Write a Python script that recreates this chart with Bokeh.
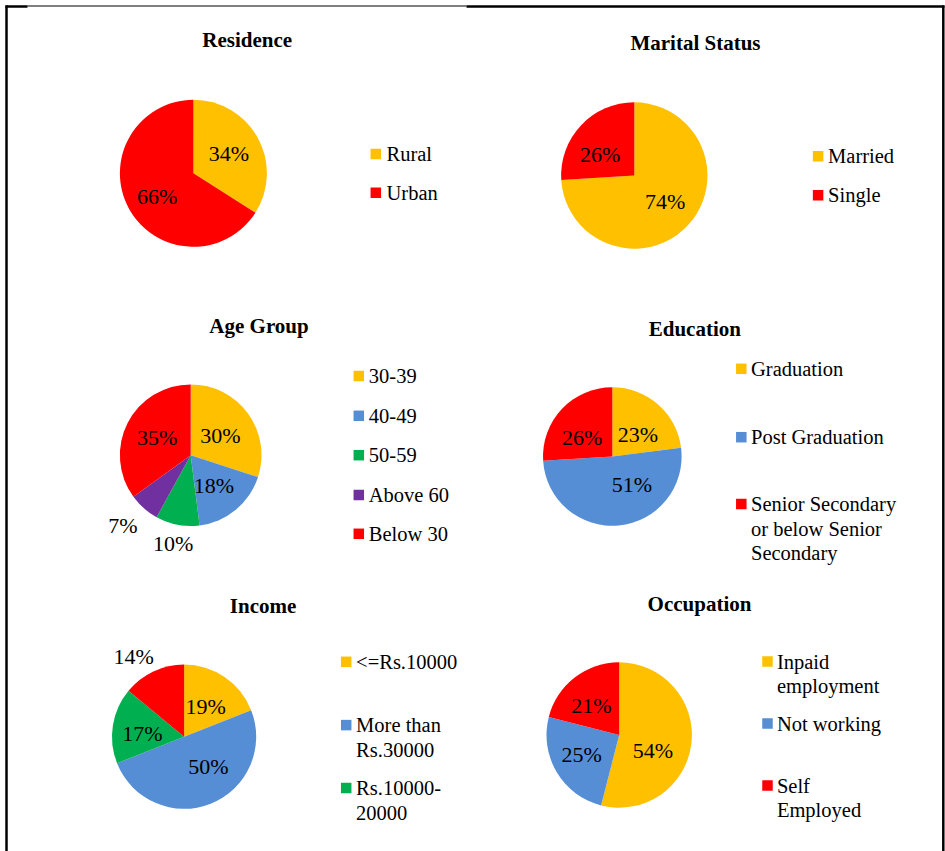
import math
from bokeh.plotting import figure
from bokeh.models import Range1d, ColumnDataSource
from bokeh.core.properties import value
from bokeh.embed import file_html
from bokeh.resources import INLINE

# ---------------- data ----------------
residence_labels = ["Rural", "Urban"]
residence_values = [34, 66]

marital_labels = ["Married", "Single"]
marital_values = [74, 26]

age_labels = ["30-39", "40-49", "50-59", "Above 60", "Below 30"]
age_values = [30, 18, 10, 7, 35]

education_labels = ["Graduation", "Post Graduation",
                    "Senior Secondary\nor below Senior\nSecondary"]
education_values = [23, 51, 26]

income_labels = ["<=Rs.10000", "More than\nRs.30000", "Rs.10000-\n20000"]
income_values = [19, 50, 17, 14]

occupation_labels = ["Inpaid\nemployment", "Not working", "Self\nEmployed"]
occupation_values = [54, 25, 21]

# ---------------- styles ----------------
YELLOW = "#FFC000"
RED = "#FF0000"
BLUE = "#558ED5"
GREEN = "#00B050"
PURPLE = "#7030A0"
FONT = value("Liberation Serif")

W, H = 945, 851

charts = [
    dict(title="Residence", tx=246.7, ty=39, cx=192.9, cy=172.8, r=73.5,
         labels=residence_labels, values=residence_values, colors=[YELLOW, RED],
         lab=[(0, 0.55), (3.6, 0.585)],
         sqx=375.3, txx=386, ly=[153.5, 192.3]),
    dict(title="Marital Status", tx=695, ty=42, cx=633.8, cy=175, r=73.2,
         labels=marital_labels, values=marital_values, colors=[YELLOW, RED],
         lab=[(3, 0.55), (11, 0.55)],
         sqx=817.6, txx=827.6, ly=[155.8, 194.7]),
    dict(title="Age Group", tx=258.5, ty=325, cx=190.2, cy=454.7, r=70.8,
         labels=age_labels, values=age_values,
         colors=[YELLOW, BLUE, GREEN, PURPLE, RED],
         lab=[(-3, 0.5), (-2, 0.54), (-0.4, 1.27), (-2.6, 1.38), (-0.8, 0.535)],
         sqx=358.3, txx=368.3, ly=[375.5, 415.3, 454.7, 494.5, 533.3]),
    dict(title="Education", tx=694.3, ty=328, cx=611.8, cy=456, r=69.3,
         labels=education_labels, values=education_values,
         colors=[YELLOW, BLUE, RED],
         lab=[(-8, 0.485), (29.4, 0.495), (11.6, 0.51)],
         sqx=740.8, txx=750.5, ly=[368.3, 436.7, 503.5]),
    dict(title="Income", tx=262.6, ty=605, cx=183.6, cy=736.2, r=72.1,
         labels=income_labels, values=income_values,
         colors=[YELLOW, BLUE, GREEN, RED],
         lab=[(-1, 0.52), (18, 0.53), (5, 0.58), (7, 1.31)],
         sqx=345.7, txx=355.6, ly=[661.3, 724.6, 787.5]),
    dict(title="Occupation", tx=699, ty=603, cx=618.7, cy=734.5, r=72.7,
         labels=occupation_labels, values=occupation_values,
         colors=[YELLOW, BLUE, RED],
         lab=[(-17.4, 0.51), (-3.4, 0.58), (5.6, 0.555)],
         sqx=767, txx=776.4, ly=[661, 723, 785]),
]

p = figure(width=W, height=H, x_range=Range1d(0, W), y_range=Range1d(0, H),
           output_backend="svg", toolbar_location=None, min_border=0,
           x_axis_type=None, y_axis_type=None, margin=(0, 0, 0, 0))
p.grid.visible = False
p.outline_line_color = None
p.background_fill_color = "white"
p.border_fill_color = "white"

LINE_STEP = 24.5
SQ = 10.5

for c in charts:
    vals = c["values"]
    total = float(sum(vals))
    starts, ends, mids = [], [], []
    cum = 0.0
    for v in vals:
        s = 90 - 360.0 * cum / total
        cum += v
        e = 90 - 360.0 * cum / total
        starts.append(s)
        ends.append(e)
        mids.append((s + e) / 2)
    cy = H - c["cy"]
    src = ColumnDataSource(dict(start=[math.radians(a) for a in starts],
                                end=[math.radians(a) for a in ends],
                                color=c["colors"]))
    p.wedge(x=c["cx"], y=cy, radius=c["r"], start_angle="start", end_angle="end",
            direction="clock", fill_color="color",
            line_color=None, source=src)

    # data labels
    lx, ly, lt = [], [], []
    for v, m, (nudge, frac) in zip(vals, mids, c["lab"]):
        a = math.radians(m + nudge)
        d = frac * c["r"]
        lx.append(c["cx"] + d * math.cos(a))
        ly.append(cy + d * math.sin(a))
        lt.append(f"{v}%")
    p.text(x=lx, y=ly, text=lt, text_font=FONT, text_font_size="22px",
           text_align="center", text_baseline="middle", text_color="black")

    # title
    p.text(x=[c["tx"]], y=[H - c["ty"]], text=[c["title"]], text_font=FONT,
           text_font_size="21px", text_font_style="bold", text_align="center",
           text_baseline="middle", text_color="black")

    # legend
    sx, sy, scol = [], [], []
    tx, ty, tt = [], [], []
    for lab, col, yy in zip(c["labels"], c["colors"], c["ly"]):
        sx.append(c["sqx"])
        sy.append(H - yy)
        scol.append(col)
        for k, line in enumerate(lab.split("\n")):
            tx.append(c["txx"])
            ty.append(H - (yy + k * LINE_STEP))
            tt.append(line)
    p.rect(x=sx, y=sy, width=SQ, height=SQ, fill_color=scol, line_color=None)
    p.text(x=tx, y=ty, text=tt, text_font=FONT, text_font_size="20.5px",
           text_align="left", text_baseline="middle", text_color="black")

# frame lines
p.line(x=[6, 6], y=[H - 5, 0], line_color="black", line_width=2.5)
p.line(x=[942.8, 942.8], y=[H - 5, 0], line_color="black", line_width=2.5)
p.line(x=[5, 27], y=[H - 6, H - 6], line_color="black", line_width=2.5)
p.line(x=[27, 466], y=[H - 5.5, H - 5.5], line_color="black", line_width=1)
p.line(x=[466, 944], y=[H - 6, H - 6], line_color="black", line_width=2.5)

open("out.html", "w").write(file_html(p, INLINE))
